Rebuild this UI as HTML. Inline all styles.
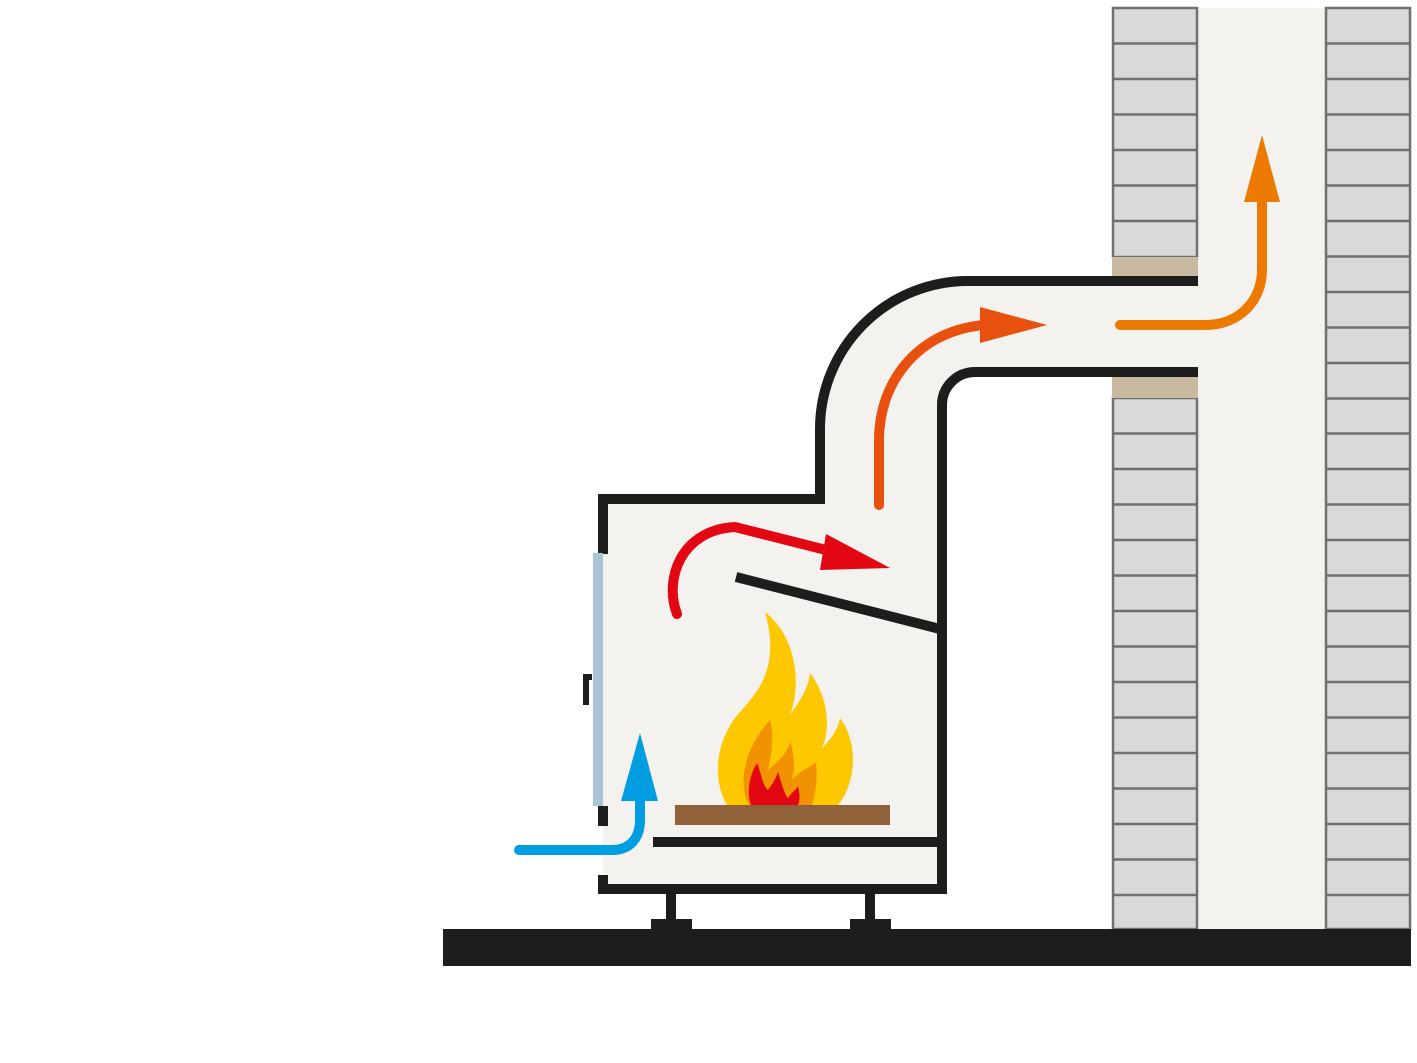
<!DOCTYPE html>
<html><head><meta charset="utf-8"><style>html,body{margin:0;padding:0;background:#fff}svg{display:block}</style></head>
<body>
<svg width="1417" height="1063" viewBox="0 0 1417 1063" xmlns="http://www.w3.org/2000/svg">
<rect width="1417" height="1063" fill="#fff"/>
<!-- chimney interior -->
<rect x="1197" y="8" width="128" height="921" fill="#f3f2ef"/>
<!-- bricks -->
<g fill="#d9d9d9" stroke="#707070" stroke-width="2.5">
<rect x="1113" y="8" width="84" height="249"/>
<rect x="1113" y="398" width="84" height="531"/>
<rect x="1326" y="8" width="84" height="921"/>
</g>
<g stroke="#707070" stroke-width="2.5">
<path d="M1113 43.5H1197M1113 79H1197M1113 114.5H1197M1113 150H1197M1113 185.5H1197M1113 221H1197
M1113 433.5H1197M1113 469H1197M1113 504.5H1197M1113 540H1197M1113 575.5H1197M1113 611H1197M1113 646.5H1197M1113 682H1197M1113 717.5H1197M1113 753H1197M1113 788.5H1197M1113 824H1197M1113 859.5H1197M1113 895H1197"/>
<path d="M1326 43.5H1410M1326 79H1410M1326 114.5H1410M1326 150H1410M1326 185.5H1410M1326 221H1410M1326 256.5H1410M1326 292H1410M1326 327.5H1410M1326 363H1410M1326 398.5H1410M1326 433.5H1410M1326 469H1410M1326 504.5H1410M1326 540H1410M1326 575.5H1410M1326 611H1410M1326 646.5H1410M1326 682H1410M1326 717.5H1410M1326 753H1410M1326 788.5H1410M1326 824H1410M1326 859.5H1410M1326 895H1410"/>
</g>
<rect x="1112" y="257" width="86" height="22" fill="#c9b9a0"/>
<rect x="1112" y="376" width="86" height="22" fill="#c9b9a0"/>
<!-- pipe & stove fill -->
<path d="M968 281H1197V372H975A33 33 0 0 0 942 405V889H603V499H820V429A148 148 0 0 1 968 281Z" fill="#f3f2ef"/>
<rect x="1112" y="286" width="86" height="86" fill="#f3f2ef"/>
<g fill="none" stroke="#1d1d1b" stroke-width="10">
<path d="M1198 281H968A148 148 0 0 0 820 429V499H603V554"/>
<path d="M1198 372H975A33 33 0 0 0 942 405V889H603V875"/>
<path d="M603 806V826"/>
<path d="M736 577L940 629"/>
<path d="M653 842H940"/>
<path d="M671 889V922M870 889V922"/>
</g>
<rect x="593" y="553" width="10" height="253" fill="#a9c4d7"/>
<path d="M586 705V677H592" fill="none" stroke="#1d1d1b" stroke-width="6"/>
<rect x="651" y="919" width="41" height="12" fill="#1d1d1b"/>
<rect x="850" y="919" width="41" height="12" fill="#1d1d1b"/>
<rect x="443" y="929" width="968" height="37" fill="#1d1d1b"/>
<!-- wood -->
<rect x="675" y="805" width="215" height="20" fill="#91613a"/>
<!-- flame -->
<path d="M765 612C800 640 800 690 790 715C800 700 808 690 810 673C830 700 830 730 822 748C830 740 838 730 840 718C860 745 855 785 838 805H727C712 780 715 740 740 712C760 690 780 665 765 612Z" fill="#fdc800"/>
<path d="M770 720C775 740 770 760 768 770C780 760 790 750 790 740C795 760 795 770 792 780C800 770 810 768 816 762C818 780 815 795 812 805H749C738 785 743 750 770 720Z" fill="#f39200"/>
<path d="M757 763C762 775 762 785 768 790C772 785 776 778 778 772C782 785 785 795 788 798C792 792 796 790 798 786C800 795 800 800 798 805H751C747 795 748 778 757 763Z" fill="#e30613"/>
<!-- arrows -->
<g fill="none" stroke-linecap="round" stroke-width="10">
<path d="M677 614C664 580 680 530 735 527L830 551" stroke="#e30613"/>
<path d="M879 505V440C879 380 920 330 985 325" stroke="#e8500f"/>
<path d="M1120 325H1205C1240 325 1262 300 1262 270V200" stroke="#ec7a00"/>
<path d="M519 850H612C630 850 640 838 640 820V798" stroke="#009ee0"/>
</g>
<polygon points="826,534 890,568 820,570" fill="#e30613"/>
<polygon points="980,307 1047,325 980,343" fill="#e8500f"/>
<polygon points="1244,202 1262,135 1280,202" fill="#ec7a00"/>
<polygon points="621,801 640,733 658,801" fill="#009ee0"/>
</svg>
</body></html>
